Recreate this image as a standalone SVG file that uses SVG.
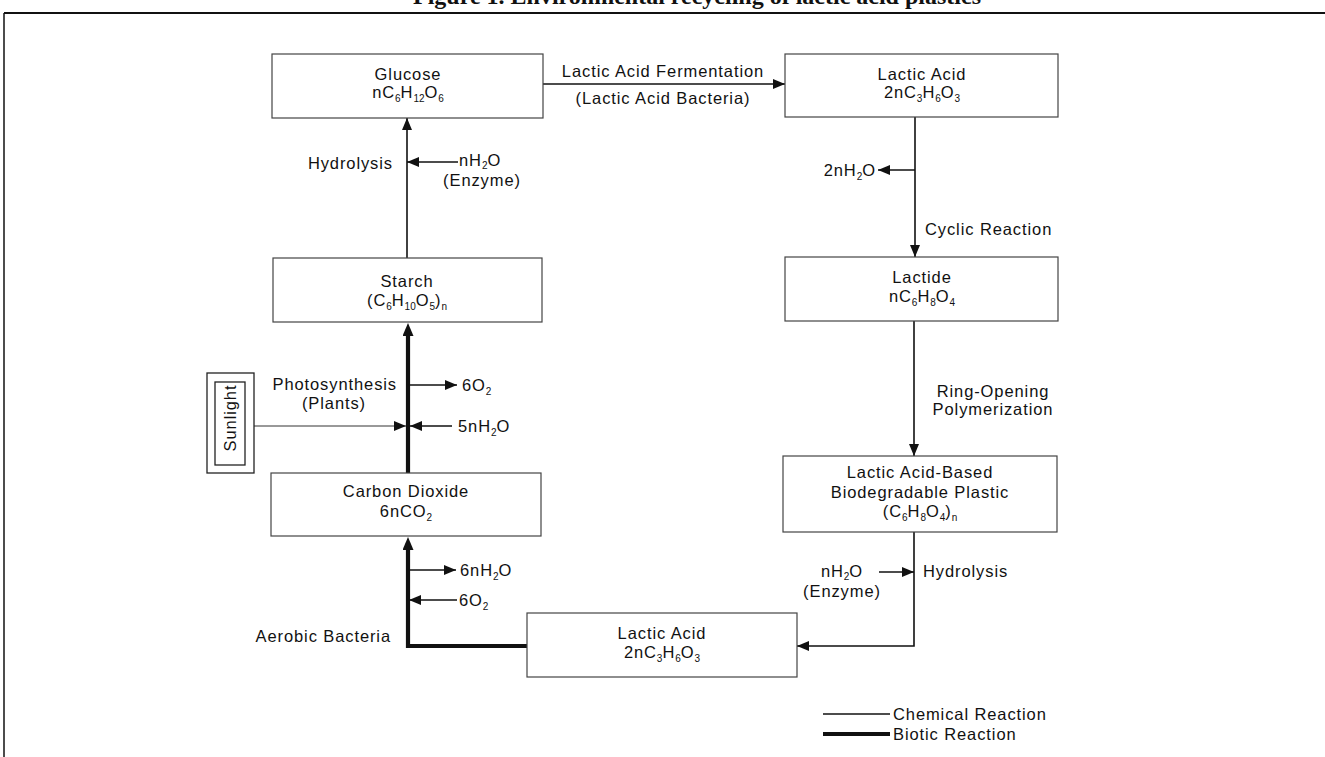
<svg xmlns="http://www.w3.org/2000/svg" width="1325" height="757" viewBox="0 0 1325 757">
<style>
text{font-family:"Liberation Sans",Arial,sans-serif;font-size:16.5px;letter-spacing:0.9px;fill:#111}
.m{text-anchor:middle}
.e{text-anchor:end}
.s{font-size:10px;letter-spacing:0}
.box{fill:#fff;stroke:#444;stroke-width:1.2}
.thin{fill:none;stroke:#111;stroke-width:1.6}
.thick{fill:none;stroke:#111;stroke-width:4.2}
.hair{fill:none;stroke:#333;stroke-width:1}
.title{font-family:"Liberation Serif","Times New Roman",serif;font-weight:bold;font-size:24px;letter-spacing:0}
</style>
<defs>
<marker id="ah" viewBox="0 0 12 10" refX="12" refY="5" markerWidth="12" markerHeight="10" markerUnits="userSpaceOnUse" orient="auto"><path d="M0,0 L12,5 L0,10 z" fill="#111"/></marker>
<marker id="ahk" viewBox="0 0 13 11" refX="7" refY="5.5" markerWidth="13" markerHeight="11" markerUnits="userSpaceOnUse" orient="auto"><path d="M0,0 L13,5.5 L0,11 z" fill="#111"/></marker>
</defs>
<rect width="1325" height="757" fill="#fff"/>
<g id="frame">
<text class="title m" x="697" y="4">Figure 1. Environmental recycling of lactic acid plastics</text>
<line x1="4" y1="13" x2="1325" y2="13" stroke="#111" stroke-width="2"/>
<line x1="4" y1="13" x2="4" y2="757" stroke="#111" stroke-width="1.5"/>
</g>
<g id="connectors">
<line class="thin" x1="543" y1="84" x2="785" y2="84" marker-end="url(#ah)"/>
<text class="m" x="663" y="77">Lactic Acid Fermentation</text>
<text class="m" x="663" y="104">(Lactic Acid Bacteria)</text>
<line class="thin" x1="407" y1="258" x2="407" y2="118" marker-end="url(#ah)"/>
<line class="thin" x1="458" y1="162" x2="407" y2="162" marker-end="url(#ah)"/>
<text x="459" y="166">nH<tspan class="s" dy="3">2</tspan><tspan dy="-3">O</tspan></text>
<text class="m" x="482" y="186">(Enzyme)</text>
<text class="e" x="393" y="169">Hydrolysis</text>
<line class="thin" x1="915" y1="117" x2="915" y2="257" marker-end="url(#ah)"/>
<line class="thin" x1="915" y1="170" x2="878" y2="170" marker-end="url(#ah)"/>
<text class="e" x="876" y="176">2nH<tspan class="s" dy="4">2</tspan><tspan dy="-4">O</tspan></text>
<text x="925" y="235">Cyclic Reaction</text>
<line class="thin" x1="914" y1="321" x2="914" y2="456" marker-end="url(#ah)"/>
<text class="m" x="993" y="397">Ring-Opening</text>
<text class="m" x="993" y="415">Polymerization</text>
<polyline class="thin" points="914,532 914,646 797,646" marker-end="url(#ah)"/>
<line class="thin" x1="879" y1="572" x2="914" y2="572" marker-end="url(#ah)"/>
<text class="m" x="842" y="577">nH<tspan class="s" dy="3">2</tspan><tspan dy="-3">O</tspan></text>
<text class="m" x="842" y="597">(Enzyme)</text>
<text x="923" y="577">Hydrolysis</text>
<polyline class="thick" points="527,646 408,646 408,543" marker-end="url(#ahk)"/>
<line class="thin" x1="408" y1="570" x2="456" y2="570" marker-end="url(#ah)"/>
<text x="460" y="576">6nH<tspan class="s" dy="4">2</tspan><tspan dy="-4">O</tspan></text>
<line class="thin" x1="457" y1="600" x2="409" y2="600" marker-end="url(#ah)"/>
<text x="459" y="606">6O<tspan class="s" dy="4">2</tspan></text>
<text class="e" x="391" y="642">Aerobic Bacteria</text>
<line class="thick" x1="408" y1="473" x2="408" y2="329" marker-end="url(#ahk)"/>
<line class="thin" x1="408" y1="385" x2="457" y2="385" marker-end="url(#ah)"/>
<text x="462" y="391">6O<tspan class="s" dy="4">2</tspan></text>
<line class="thin" x1="452" y1="426" x2="410" y2="426" marker-end="url(#ah)"/>
<text x="458" y="432">5nH<tspan class="s" dy="4">2</tspan><tspan dy="-4">O</tspan></text>
<line class="hair" x1="247" y1="426" x2="406" y2="426" marker-end="url(#ah)"/>
<text class="e" x="397" y="390">Photosynthesis</text>
<text class="m" x="334" y="409">(Plants)</text>
</g>
<g id="glucose">
<rect class="box" x="272" y="54" width="271" height="64"/>
<text class="m" x="408" y="80">Glucose</text>
<text class="m" x="408" y="98">nC<tspan class="s" dy="4">6</tspan><tspan dy="-4">H</tspan><tspan class="s" dy="4">12</tspan><tspan dy="-4">O</tspan><tspan class="s" dy="4">6</tspan></text>
</g>
<g id="lactic-acid-1">
<rect class="box" x="785" y="54" width="273" height="63"/>
<text class="m" x="922" y="80">Lactic Acid</text>
<text class="m" x="922" y="98">2nC<tspan class="s" dy="4">3</tspan><tspan dy="-4">H</tspan><tspan class="s" dy="4">6</tspan><tspan dy="-4">O</tspan><tspan class="s" dy="4">3</tspan></text>
</g>
<g id="lactide">
<rect class="box" x="785" y="257" width="273" height="64"/>
<text class="m" x="922" y="283">Lactide</text>
<text class="m" x="922" y="302">nC<tspan class="s" dy="4">6</tspan><tspan dy="-4">H</tspan><tspan class="s" dy="4">8</tspan><tspan dy="-4">O</tspan><tspan class="s" dy="4">4</tspan></text>
</g>
<g id="plastic">
<rect class="box" x="783" y="456" width="274" height="76"/>
<text class="m" x="920" y="478">Lactic Acid-Based</text>
<text class="m" x="920" y="498">Biodegradable Plastic</text>
<text class="m" x="920" y="517">(C<tspan class="s" dy="4">6</tspan><tspan dy="-4">H</tspan><tspan class="s" dy="4">8</tspan><tspan dy="-4">O</tspan><tspan class="s" dy="4">4</tspan><tspan dy="-4">)</tspan><tspan class="s" dy="4">n</tspan></text>
</g>
<g id="lactic-acid-2">
<rect class="box" x="527" y="613" width="270" height="64"/>
<text class="m" x="662" y="639">Lactic Acid</text>
<text class="m" x="662" y="658">2nC<tspan class="s" dy="4">3</tspan><tspan dy="-4">H</tspan><tspan class="s" dy="4">6</tspan><tspan dy="-4">O</tspan><tspan class="s" dy="4">3</tspan></text>
</g>
<g id="carbon-dioxide">
<rect class="box" x="271" y="473" width="270" height="63"/>
<text class="m" x="406" y="497">Carbon Dioxide</text>
<text class="m" x="406" y="517">6nCO<tspan class="s" dy="4">2</tspan></text>
</g>
<g id="starch">
<rect class="box" x="273" y="258" width="269" height="64"/>
<text class="m" x="407" y="287">Starch</text>
<text class="m" x="407" y="306">(C<tspan class="s" dy="4">6</tspan><tspan dy="-4">H</tspan><tspan class="s" dy="4">10</tspan><tspan dy="-4">O</tspan><tspan class="s" dy="4">5</tspan><tspan dy="-4">)</tspan><tspan class="s" dy="4">n</tspan></text>
</g>
<g id="sunlight">
<rect x="207" y="373" width="47" height="100" fill="#fff" stroke="#222" stroke-width="1.3"/>
<rect x="215" y="382" width="30" height="83" fill="#fff" stroke="#222" stroke-width="1.3"/>
<text class="m" x="230" y="418" transform="rotate(-90 230 418)" dominant-baseline="central">Sunlight</text>
</g>
<g id="legend">
<line class="thin" x1="823" y1="714" x2="890" y2="714"/>
<line class="thick" x1="823" y1="734" x2="890" y2="734"/>
<text x="893" y="720">Chemical Reaction</text>
<text x="893" y="740">Biotic Reaction</text>
</g>
</svg>
